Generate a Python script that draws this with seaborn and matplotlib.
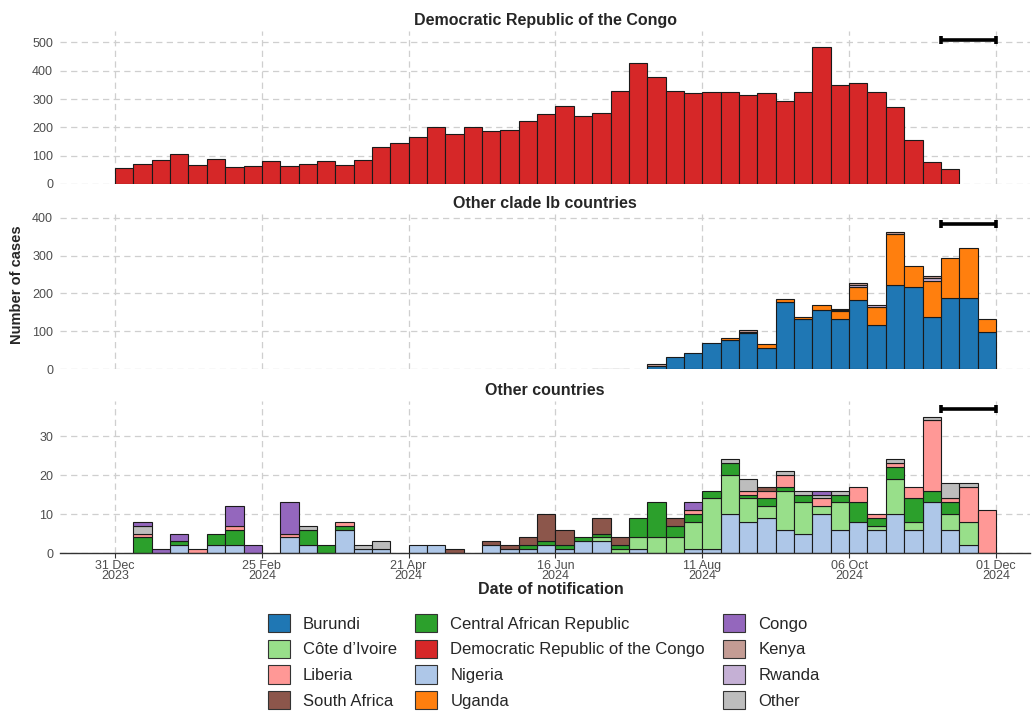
import matplotlib
matplotlib.use("Agg")
import matplotlib.pyplot as plt
import matplotlib.dates as mdates
from matplotlib.patches import Patch
import numpy as np
import pandas as pd
import seaborn as sns

# Semanas de notificacao (inicio de cada semana)
week_start = pd.date_range("2023-12-31", periods=48, freq="7D")

# ---------------------------------------------------------------------------
# Democratic Republic of the Congo
# ---------------------------------------------------------------------------
drc = [55, 71, 85, 105, 66, 90, 61, 64, 80, 64, 71, 80,
       68, 85, 132, 146, 166, 202, 175, 202, 186, 191, 223, 248,
       276, 241, 251, 330, 428, 376, 327, 322, 325, 325, 315, 321,
       294, 324, 483, 349, 357, 325, 271, 154, 79, 53, 0, 0]

# ---------------------------------------------------------------------------
# Other clade Ib countries
# ---------------------------------------------------------------------------
burundi = [0] * 24 + [0, 0, 0, 0, 0, 9, 31, 43, 70, 77, 96, 55,
                      178, 131, 156, 132, 183, 116, 221, 216, 137, 187, 187, 97]
uganda = [0] * 24 + [0, 0, 0, 0, 0, 0, 0, 0, 0, 6, 3, 10,
                     8, 7, 14, 21, 35, 47, 136, 56, 96, 106, 134, 36]
rwanda = [0] * 36 + [0, 0, 0, 3, 4, 7, 0, 0, 8, 0, 0, 0]
kenya = [0] * 24 + [0, 0, 0, 0, 0, 3, 0, 0, 0, 0, 4, 0,
                    0, 0, 0, 4, 5, 0, 5, 0, 4, 0, 0, 0]
other_ib = [0] * 24 + [0, 0, 1, 1, 0, 0, 0, 0, 0, 0, 0, 0] + [0] * 12

# ---------------------------------------------------------------------------
# Other countries
# ---------------------------------------------------------------------------
nigeria = [0, 0, 0, 2, 0, 2, 2, 0, 0, 4, 2, 0,
           6, 1, 1, 0, 2, 2, 0, 0, 2, 1, 1, 2,
           1, 3, 3, 0, 1, 0, 0, 1, 1, 10, 8, 9,
           6, 5, 10, 6, 8, 6, 10, 6, 13, 6, 2, 0]
cote_divoire = [0] * 24 + [0, 0, 1, 1, 3, 4, 4, 7, 13, 10, 6, 3,
                           10, 8, 2, 7, 0, 1, 9, 2, 0, 4, 6, 0]
car = [0, 4, 0, 1, 0, 3, 4, 0, 0, 0, 4, 2,
       1, 0, 0, 0, 0, 0, 0, 0, 0, 0, 1, 1,
       1, 1, 1, 1, 5, 9, 3, 2, 2, 3, 1, 2,
       1, 2, 0, 2, 5, 2, 3, 6, 3, 3, 0, 0]
liberia = [0, 1, 0, 0, 1, 0, 1, 0, 0, 1, 0, 0,
           1, 0, 0, 0, 0, 0, 0, 0, 0, 0, 0, 0,
           0, 0, 0, 0, 0, 0, 0, 1, 0, 0, 1, 2,
           3, 0, 2, 0, 4, 1, 1, 3, 18, 1, 9, 11]
south_africa = [0] * 12 + [0, 0, 0, 0, 0, 0, 1, 0, 1, 1, 2, 7,
                           4, 0, 4, 2, 0, 0, 2, 0, 0, 0, 0, 1] + [0] * 12
other = [0, 2, 0, 0, 0, 0, 0, 0, 0, 0, 1, 0,
         0, 1, 2, 0, 0, 0, 0, 0, 0, 0, 0, 0,
         0, 0, 0, 0, 0, 0, 0, 0, 0, 1, 3, 0,
         1, 1, 1, 1, 0, 0, 1, 0, 1, 4, 1, 0]
congo = [0, 1, 1, 2, 0, 0, 5, 2, 0, 8, 0, 0] + [0] * 12 + \
        [0, 0, 0, 0, 0, 0, 0, 2, 0, 0, 0, 0] + \
        [0, 0, 1, 0, 0, 0, 0, 0, 0, 0, 0, 0]

# Periodo com notificacao possivelmente incompleta (barra preta no topo)
delay_start = pd.Timestamp("2024-11-10")
delay_end = pd.Timestamp("2024-12-01")
delay_y = [509, 384, 37]

# Cores por pais
COUNTRY_COLORS = {
    "Burundi": "#1f77b4",
    "Central African Republic": "#2ca02c",
    "Congo": "#9467bd",
    "Côte d’Ivoire": "#98df8a",
    "Democratic Republic of the Congo": "#d62728",
    "Kenya": "#c49c94",
    "Liberia": "#ff9896",
    "Nigeria": "#aec7e8",
    "Rwanda": "#c5b0d5",
    "South Africa": "#8c564b",
    "Uganda": "#ff7f0e",
    "Other": "#bdbdbd",
}

# Paineis: titulo e series empilhadas (de baixo para cima)
PANELS = [
    ("Democratic Republic of the Congo",
     [("Democratic Republic of the Congo", drc)]),
    ("Other clade Ib countries",
     [("Burundi", burundi), ("Uganda", uganda), ("Rwanda", rwanda),
      ("Kenya", kenya), ("Other", other_ib)]),
    ("Other countries",
     [("Nigeria", nigeria), ("Côte d’Ivoire", cote_divoire),
      ("Central African Republic", car), ("Liberia", liberia),
      ("South Africa", south_africa), ("Other", other), ("Congo", congo)]),
]
Y_MAX = [540, 410, 39]
Y_TICKS = [range(0, 501, 100), range(0, 401, 100), range(0, 31, 10)]

# Ordem da legenda (matplotlib preenche por coluna)
LEGEND_ORDER = ["Burundi", "Côte d’Ivoire", "Liberia", "South Africa",
                "Central African Republic", "Democratic Republic of the Congo",
                "Nigeria", "Uganda",
                "Congo", "Kenya", "Rwanda", "Other"]

# ---------------------------------------------------------------------------
# Figura
# ---------------------------------------------------------------------------
sns.set_theme(style="whitegrid")
plt.rcParams["font.family"] = ["Liberation Sans", "DejaVu Sans"]

W, H = 1036, 711
fig = plt.figure(figsize=(W / 100, H / 100), dpi=100)

# posicoes dos paineis em pixels (topo, base)
panel_px = [(31, 184), (214, 369), (401, 553)]
left_px, right_px = 60, 1030

x = mdates.date2num(week_start)
ticks = pd.date_range("2023-12-31", "2024-12-01", freq="56D")
grid_style = dict(color="#cfcfcf", linestyle=(0, (5, 3.5)), linewidth=0.9)

axes = []
for k, (title, series) in enumerate(PANELS):
    top, bot = panel_px[k]
    ax = fig.add_axes([left_px / W, 1 - bot / H,
                       (right_px - left_px) / W, (bot - top) / H])
    axes.append(ax)

    bottom = np.zeros(len(x))
    for country, vals in series:
        vals = np.asarray(vals, dtype=float)
        mask = vals > 0
        ax.bar(x[mask], vals[mask], width=7, bottom=bottom[mask], align="edge",
               color=COUNTRY_COLORS[country], edgecolor="#1a1a1a",
               linewidth=0.8, zorder=2)
        bottom += vals

    # barra de atraso de notificacao
    d0, d1 = mdates.date2num(delay_start), mdates.date2num(delay_end)
    ax.errorbar((d0 + d1) / 2, delay_y[k], xerr=(d1 - d0) / 2, fmt="none",
                ecolor="black", elinewidth=2.6, capsize=3.2, capthick=2.6,
                zorder=3)

    ax.set_xlim(mdates.date2num(pd.Timestamp("2023-12-10")),
                mdates.date2num(pd.Timestamp("2024-12-14")))
    ax.set_ylim(0, Y_MAX[k])
    ax.set_yticks(list(Y_TICKS[k]))
    ax.set_xticks(mdates.date2num(ticks))
    ax.grid(True, **grid_style)
    ax.set_axisbelow(True)
    ax.set_facecolor("white")
    for s in ax.spines.values():
        s.set_visible(False)
    ax.tick_params(axis="y", length=0, pad=5, labelsize=9,
                   labelcolor="#4d4d4d")
    ax.set_title(title, fontsize=11.5, fontweight="bold", pad=4)

    if k < 2:
        ax.tick_params(axis="x", length=0, labelbottom=False)
    else:
        ax.spines["bottom"].set_visible(True)
        ax.spines["bottom"].set_color("#333333")
        ax.spines["bottom"].set_linewidth(1.0)
        ax.set_xticklabels([d.strftime("%d %b\n%Y") for d in ticks])
        ax.tick_params(axis="x", length=3.5, width=0.8, color="#333333",
                       bottom=True, pad=1.5, labelsize=9,
                       labelcolor="#4d4d4d")
        plt.setp(ax.get_xticklabels(), linespacing=0.82)

fig.text(17 / W, 1 - 285 / H, "Number of cases", rotation=90,
         ha="center", va="center", fontsize=10.5, fontweight="bold")
fig.text(551 / W, 1 - 590 / H, "Date of notification",
         ha="center", va="center", fontsize=11.5, fontweight="bold")

handles = [Patch(facecolor=COUNTRY_COLORS[c], edgecolor="#333333",
                 linewidth=0.8) for c in LEGEND_ORDER]
fig.legend(handles, LEGEND_ORDER, ncol=3, loc="upper left",
           bbox_to_anchor=(268 / W, 1 - 614 / H), frameon=False,
           fontsize=12, handlelength=1.3, handleheight=1.3,
           handletextpad=0.8, columnspacing=1.1, labelspacing=0.45,
           borderpad=0, borderaxespad=0)

fig.savefig("out.png", dpi=100, facecolor="white")
